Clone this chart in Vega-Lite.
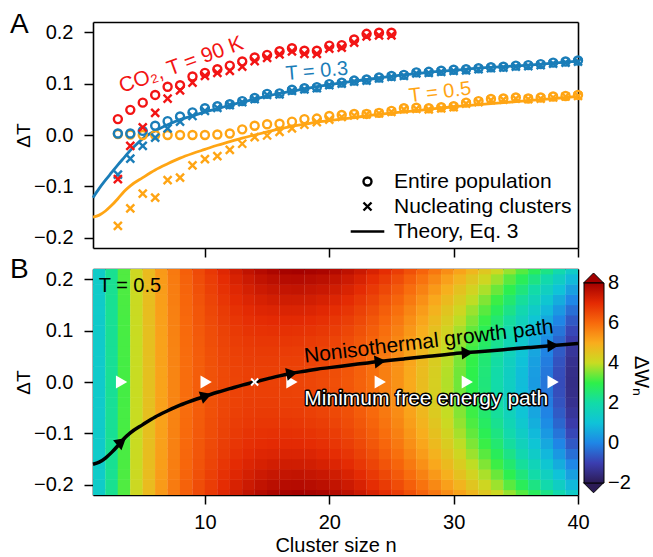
{
"$schema":"https://vega.github.io/schema/vega-lite/v6.json",
"padding":{"left":10,"top":11,"right":0,"bottom":0},
"background":"white",
"config":{"font":"Liberation Sans","view":{"stroke":null},
"axis":{"grid":false,"domain":true,"domainColor":"black","domainWidth":1.6,"zindex":1,"tickColor":"black","tickWidth":1.5,"tickSize":9,"labelFontSize":20,"labelColor":"black","labelPadding":8,"labelFlush":false,"titleFontSize":19,"titleFontWeight":"normal","titleColor":"black"},
"axisY":{"labelPadding":11},
"legend":{"labelFontSize":20,"labelColor":"black","titleFontWeight":"normal","titleColor":"black","symbolBaseStrokeColor":"black"}},
"spacing":21,
"bounds":"flush",
"resolve":{"scale":{"color":"independent","shape":"independent","x":"independent","y":"independent"},"legend":{"color":"independent","shape":"independent"}},
"datasets":{
"th":[
{"s":"b","n":1,"v":-0.122},{"s":"b","n":1.5,"v":-0.104},{"s":"b","n":2,"v":-0.088},{"s":"b","n":2.5,"v":-0.073},{"s":"b","n":3,"v":-0.058},{"s":"b","n":3.5,"v":-0.044},{"s":"b","n":4,"v":-0.03},{"s":"b","n":4.5,"v":-0.018},{"s":"b","n":5,"v":-0.007},{"s":"b","n":6,"v":0.008},{"s":"b","n":7,"v":0.02},{"s":"b","n":8,"v":0.03},{"s":"b","n":9,"v":0.037},{"s":"b","n":10,"v":0.045},{"s":"b","n":11,"v":0.051},{"s":"b","n":12,"v":0.058},{"s":"b","n":13,"v":0.064},{"s":"b","n":14,"v":0.07},{"s":"b","n":16,"v":0.081},{"s":"b","n":18,"v":0.09},{"s":"b","n":20,"v":0.098},{"s":"b","n":22,"v":0.105},{"s":"b","n":24,"v":0.111},{"s":"b","n":26,"v":0.117},{"s":"b","n":28,"v":0.122},{"s":"b","n":30,"v":0.126},{"s":"b","n":32,"v":0.13},{"s":"b","n":34,"v":0.133},{"s":"b","n":36,"v":0.136},{"s":"b","n":38,"v":0.14},{"s":"b","n":40,"v":0.144},
{"s":"o","n":1,"v":-0.16},{"s":"o","n":1.5,"v":-0.156},{"s":"o","n":2,"v":-0.148},{"s":"o","n":2.5,"v":-0.137},{"s":"o","n":3,"v":-0.124},{"s":"o","n":3.5,"v":-0.11},{"s":"o","n":4,"v":-0.099},{"s":"o","n":5,"v":-0.083},{"s":"o","n":6,"v":-0.068},{"s":"o","n":7,"v":-0.056},{"s":"o","n":8,"v":-0.045},{"s":"o","n":9,"v":-0.036},{"s":"o","n":10,"v":-0.028},{"s":"o","n":11,"v":-0.02},{"s":"o","n":12,"v":-0.013},{"s":"o","n":13,"v":-0.006},{"s":"o","n":14,"v":0},{"s":"o","n":15,"v":0.006},{"s":"o","n":16,"v":0.012},{"s":"o","n":17,"v":0.017},{"s":"o","n":18,"v":0.021},{"s":"o","n":19,"v":0.025},{"s":"o","n":20,"v":0.028},{"s":"o","n":22,"v":0.034},{"s":"o","n":24,"v":0.04},{"s":"o","n":26,"v":0.045},{"s":"o","n":28,"v":0.05},{"s":"o","n":30,"v":0.055},{"s":"o","n":32,"v":0.059},{"s":"o","n":34,"v":0.063},{"s":"o","n":36,"v":0.067},{"s":"o","n":38,"v":0.071},{"s":"o","n":40,"v":0.075}
],
"pts":[
{"s":"o","k":"E","n":3,"v":0.002},{"s":"o","k":"E","n":4,"v":0.001},{"s":"o","k":"E","n":5,"v":0},{"s":"o","k":"E","n":6,"v":0},{"s":"o","k":"E","n":7,"v":0},{"s":"o","k":"E","n":8,"v":0},{"s":"o","k":"E","n":9,"v":0},{"s":"o","k":"E","n":10,"v":0},{"s":"o","k":"E","n":11,"v":0.001},{"s":"o","k":"E","n":12,"v":0.003},{"s":"o","k":"E","n":13,"v":0.011},{"s":"o","k":"E","n":14,"v":0.018},{"s":"o","k":"E","n":15,"v":0.021},{"s":"o","k":"E","n":16,"v":0.022},{"s":"o","k":"E","n":17,"v":0.026},{"s":"o","k":"E","n":18,"v":0.031},{"s":"o","k":"E","n":19,"v":0.032},{"s":"o","k":"E","n":20,"v":0.037},{"s":"o","k":"E","n":21,"v":0.039},{"s":"o","k":"E","n":22,"v":0.041},{"s":"o","k":"E","n":23,"v":0.041},{"s":"o","k":"E","n":24,"v":0.043},{"s":"o","k":"E","n":25,"v":0.047},{"s":"o","k":"E","n":26,"v":0.052},{"s":"o","k":"E","n":27,"v":0.053},{"s":"o","k":"E","n":28,"v":0.052},{"s":"o","k":"E","n":29,"v":0.054},{"s":"o","k":"E","n":30,"v":0.056},{"s":"o","k":"E","n":31,"v":0.063},{"s":"o","k":"E","n":32,"v":0.066},{"s":"o","k":"E","n":33,"v":0.07},{"s":"o","k":"E","n":34,"v":0.071},{"s":"o","k":"E","n":35,"v":0.073},{"s":"o","k":"E","n":36,"v":0.071},{"s":"o","k":"E","n":37,"v":0.073},{"s":"o","k":"E","n":38,"v":0.075},{"s":"o","k":"E","n":39,"v":0.076},{"s":"o","k":"E","n":40,"v":0.078},
{"s":"o","k":"N","n":3,"v":-0.177},{"s":"o","k":"N","n":4,"v":-0.143},{"s":"o","k":"N","n":5,"v":-0.114},{"s":"o","k":"N","n":6,"v":-0.122},{"s":"o","k":"N","n":7,"v":-0.088},{"s":"o","k":"N","n":8,"v":-0.083},{"s":"o","k":"N","n":9,"v":-0.059},{"s":"o","k":"N","n":10,"v":-0.047},{"s":"o","k":"N","n":11,"v":-0.041},{"s":"o","k":"N","n":12,"v":-0.029},{"s":"o","k":"N","n":13,"v":-0.017},{"s":"o","k":"N","n":14,"v":-0.004},{"s":"o","k":"N","n":15,"v":-0.001},{"s":"o","k":"N","n":16,"v":0.006},{"s":"o","k":"N","n":17,"v":0.013},{"s":"o","k":"N","n":18,"v":0.02},{"s":"o","k":"N","n":19,"v":0.025},{"s":"o","k":"N","n":20,"v":0.03},{"s":"o","k":"N","n":21,"v":0.035},{"s":"o","k":"N","n":22,"v":0.038},{"s":"o","k":"N","n":23,"v":0.04},{"s":"o","k":"N","n":24,"v":0.042},{"s":"o","k":"N","n":25,"v":0.045},{"s":"o","k":"N","n":26,"v":0.05},{"s":"o","k":"N","n":27,"v":0.051},{"s":"o","k":"N","n":28,"v":0.05},{"s":"o","k":"N","n":29,"v":0.052},{"s":"o","k":"N","n":30,"v":0.054},{"s":"o","k":"N","n":31,"v":0.061},{"s":"o","k":"N","n":32,"v":0.064},{"s":"o","k":"N","n":33,"v":0.068},{"s":"o","k":"N","n":34,"v":0.069},{"s":"o","k":"N","n":35,"v":0.071},{"s":"o","k":"N","n":36,"v":0.07},{"s":"o","k":"N","n":37,"v":0.071},{"s":"o","k":"N","n":38,"v":0.073},{"s":"o","k":"N","n":39,"v":0.075},{"s":"o","k":"N","n":40,"v":0.076},
{"s":"b","k":"E","n":3,"v":0.003},{"s":"b","k":"E","n":4,"v":0.003},{"s":"b","k":"E","n":5,"v":0.008},{"s":"b","k":"E","n":6,"v":0.018},{"s":"b","k":"E","n":7,"v":0.027},{"s":"b","k":"E","n":8,"v":0.036},{"s":"b","k":"E","n":9,"v":0.044},{"s":"b","k":"E","n":10,"v":0.052},{"s":"b","k":"E","n":11,"v":0.056},{"s":"b","k":"E","n":12,"v":0.06},{"s":"b","k":"E","n":13,"v":0.066},{"s":"b","k":"E","n":14,"v":0.072},{"s":"b","k":"E","n":15,"v":0.08},{"s":"b","k":"E","n":16,"v":0.081},{"s":"b","k":"E","n":17,"v":0.088},{"s":"b","k":"E","n":18,"v":0.091},{"s":"b","k":"E","n":19,"v":0.093},{"s":"b","k":"E","n":20,"v":0.099},{"s":"b","k":"E","n":21,"v":0.102},{"s":"b","k":"E","n":22,"v":0.106},{"s":"b","k":"E","n":23,"v":0.108},{"s":"b","k":"E","n":24,"v":0.112},{"s":"b","k":"E","n":25,"v":0.115},{"s":"b","k":"E","n":26,"v":0.117},{"s":"b","k":"E","n":27,"v":0.122},{"s":"b","k":"E","n":28,"v":0.123},{"s":"b","k":"E","n":29,"v":0.125},{"s":"b","k":"E","n":30,"v":0.127},{"s":"b","k":"E","n":31,"v":0.128},{"s":"b","k":"E","n":32,"v":0.13},{"s":"b","k":"E","n":33,"v":0.132},{"s":"b","k":"E","n":34,"v":0.133},{"s":"b","k":"E","n":35,"v":0.135},{"s":"b","k":"E","n":36,"v":0.136},{"s":"b","k":"E","n":37,"v":0.138},{"s":"b","k":"E","n":38,"v":0.141},{"s":"b","k":"E","n":39,"v":0.143},{"s":"b","k":"E","n":40,"v":0.145},
{"s":"b","k":"N","n":3,"v":-0.077},{"s":"b","k":"N","n":4,"v":-0.046},{"s":"b","k":"N","n":5,"v":-0.021},{"s":"b","k":"N","n":6,"v":-0.005},{"s":"b","k":"N","n":7,"v":0.013},{"s":"b","k":"N","n":8,"v":0.026},{"s":"b","k":"N","n":9,"v":0.037},{"s":"b","k":"N","n":10,"v":0.047},{"s":"b","k":"N","n":11,"v":0.053},{"s":"b","k":"N","n":12,"v":0.058},{"s":"b","k":"N","n":13,"v":0.064},{"s":"b","k":"N","n":14,"v":0.07},{"s":"b","k":"N","n":15,"v":0.078},{"s":"b","k":"N","n":16,"v":0.079},{"s":"b","k":"N","n":17,"v":0.086},{"s":"b","k":"N","n":18,"v":0.089},{"s":"b","k":"N","n":19,"v":0.091},{"s":"b","k":"N","n":20,"v":0.097},{"s":"b","k":"N","n":21,"v":0.1},{"s":"b","k":"N","n":22,"v":0.104},{"s":"b","k":"N","n":23,"v":0.106},{"s":"b","k":"N","n":24,"v":0.11},{"s":"b","k":"N","n":25,"v":0.113},{"s":"b","k":"N","n":26,"v":0.115},{"s":"b","k":"N","n":27,"v":0.12},{"s":"b","k":"N","n":28,"v":0.121},{"s":"b","k":"N","n":29,"v":0.123},{"s":"b","k":"N","n":30,"v":0.125},{"s":"b","k":"N","n":31,"v":0.126},{"s":"b","k":"N","n":32,"v":0.128},{"s":"b","k":"N","n":33,"v":0.13},{"s":"b","k":"N","n":34,"v":0.131},{"s":"b","k":"N","n":35,"v":0.133},{"s":"b","k":"N","n":36,"v":0.134},{"s":"b","k":"N","n":37,"v":0.136},{"s":"b","k":"N","n":38,"v":0.139},{"s":"b","k":"N","n":39,"v":0.141},{"s":"b","k":"N","n":40,"v":0.143},
{"s":"r","k":"E","n":3,"v":0.031},{"s":"r","k":"E","n":4,"v":0.049},{"s":"r","k":"E","n":5,"v":0.063},{"s":"r","k":"E","n":6,"v":0.078},{"s":"r","k":"E","n":7,"v":0.094},{"s":"r","k":"E","n":8,"v":0.097},{"s":"r","k":"E","n":9,"v":0.114},{"s":"r","k":"E","n":10,"v":0.121},{"s":"r","k":"E","n":11,"v":0.128},{"s":"r","k":"E","n":12,"v":0.135},{"s":"r","k":"E","n":13,"v":0.143},{"s":"r","k":"E","n":14,"v":0.151},{"s":"r","k":"E","n":15,"v":0.156},{"s":"r","k":"E","n":16,"v":0.163},{"s":"r","k":"E","n":17,"v":0.169},{"s":"r","k":"E","n":18,"v":0.164},{"s":"r","k":"E","n":19,"v":0.164},{"s":"r","k":"E","n":20,"v":0.174},{"s":"r","k":"E","n":21,"v":0.175},{"s":"r","k":"E","n":22,"v":0.186},{"s":"r","k":"E","n":23,"v":0.197},{"s":"r","k":"E","n":24,"v":0.199},{"s":"r","k":"E","n":25,"v":0.199},
{"s":"r","k":"N","n":3,"v":-0.086},{"s":"r","k":"N","n":4,"v":-0.021},{"s":"r","k":"N","n":5,"v":0.015},{"s":"r","k":"N","n":6,"v":0.043},{"s":"r","k":"N","n":7,"v":0.071},{"s":"r","k":"N","n":8,"v":0.087},{"s":"r","k":"N","n":9,"v":0.102},{"s":"r","k":"N","n":10,"v":0.115},{"s":"r","k":"N","n":11,"v":0.121},{"s":"r","k":"N","n":12,"v":0.125},{"s":"r","k":"N","n":13,"v":0.133},{"s":"r","k":"N","n":14,"v":0.144},{"s":"r","k":"N","n":15,"v":0.15},{"s":"r","k":"N","n":16,"v":0.157},{"s":"r","k":"N","n":17,"v":0.163},{"s":"r","k":"N","n":18,"v":0.158},{"s":"r","k":"N","n":19,"v":0.158},{"s":"r","k":"N","n":20,"v":0.168},{"s":"r","k":"N","n":21,"v":0.17},{"s":"r","k":"N","n":22,"v":0.18},{"s":"r","k":"N","n":23,"v":0.192},{"s":"r","k":"N","n":24,"v":0.194},{"s":"r","k":"N","n":25,"v":0.194}
],
"hm":[
{"n":1.5,"t":-0.22,"w":1.35},{"n":1.5,"t":-0.2,"w":1.34},{"n":1.5,"t":-0.18,"w":1.33},{"n":1.5,"t":-0.16,"w":1.33},{"n":1.5,"t":-0.14,"w":1.32},{"n":1.5,"t":-0.12,"w":1.31},{"n":1.5,"t":-0.1,"w":1.31},{"n":1.5,"t":-0.08,"w":1.31},{"n":1.5,"t":-0.06,"w":1.3},{"n":1.5,"t":-0.04,"w":1.3},{"n":1.5,"t":-0.02,"w":1.3},{"n":1.5,"t":0,"w":1.3},{"n":1.5,"t":0.02,"w":1.3},{"n":1.5,"t":0.04,"w":1.3},{"n":1.5,"t":0.06,"w":1.3},{"n":1.5,"t":0.08,"w":1.31},{"n":1.5,"t":0.1,"w":1.31},{"n":1.5,"t":0.12,"w":1.31},{"n":1.5,"t":0.14,"w":1.32},{"n":1.5,"t":0.16,"w":1.33},{"n":1.5,"t":0.18,"w":1.33},{"n":1.5,"t":0.2,"w":1.34},{"n":1.5,"t":0.22,"w":1.35},
{"n":2.5,"t":-0.22,"w":2.26},{"n":2.5,"t":-0.2,"w":2.25},{"n":2.5,"t":-0.18,"w":2.24},{"n":2.5,"t":-0.16,"w":2.23},{"n":2.5,"t":-0.14,"w":2.22},{"n":2.5,"t":-0.12,"w":2.22},{"n":2.5,"t":-0.1,"w":2.21},{"n":2.5,"t":-0.08,"w":2.21},{"n":2.5,"t":-0.06,"w":2.2},{"n":2.5,"t":-0.04,"w":2.2},{"n":2.5,"t":-0.02,"w":2.2},{"n":2.5,"t":0,"w":2.2},{"n":2.5,"t":0.02,"w":2.2},{"n":2.5,"t":0.04,"w":2.2},{"n":2.5,"t":0.06,"w":2.2},{"n":2.5,"t":0.08,"w":2.21},{"n":2.5,"t":0.1,"w":2.21},{"n":2.5,"t":0.12,"w":2.22},{"n":2.5,"t":0.14,"w":2.22},{"n":2.5,"t":0.16,"w":2.23},{"n":2.5,"t":0.18,"w":2.24},{"n":2.5,"t":0.2,"w":2.25},{"n":2.5,"t":0.22,"w":2.26},
{"n":3.5,"t":-0.22,"w":3.23},{"n":3.5,"t":-0.2,"w":3.22},{"n":3.5,"t":-0.18,"w":3.2},{"n":3.5,"t":-0.16,"w":3.19},{"n":3.5,"t":-0.14,"w":3.18},{"n":3.5,"t":-0.12,"w":3.17},{"n":3.5,"t":-0.1,"w":3.17},{"n":3.5,"t":-0.08,"w":3.16},{"n":3.5,"t":-0.06,"w":3.16},{"n":3.5,"t":-0.04,"w":3.15},{"n":3.5,"t":-0.02,"w":3.15},{"n":3.5,"t":0,"w":3.15},{"n":3.5,"t":0.02,"w":3.15},{"n":3.5,"t":0.04,"w":3.15},{"n":3.5,"t":0.06,"w":3.16},{"n":3.5,"t":0.08,"w":3.16},{"n":3.5,"t":0.1,"w":3.17},{"n":3.5,"t":0.12,"w":3.17},{"n":3.5,"t":0.14,"w":3.18},{"n":3.5,"t":0.16,"w":3.19},{"n":3.5,"t":0.18,"w":3.2},{"n":3.5,"t":0.2,"w":3.22},{"n":3.5,"t":0.22,"w":3.23},
{"n":4.5,"t":-0.22,"w":4.1},{"n":4.5,"t":-0.2,"w":4.08},{"n":4.5,"t":-0.18,"w":4.07},{"n":4.5,"t":-0.16,"w":4.05},{"n":4.5,"t":-0.14,"w":4.04},{"n":4.5,"t":-0.12,"w":4.03},{"n":4.5,"t":-0.1,"w":4.02},{"n":4.5,"t":-0.08,"w":4.01},{"n":4.5,"t":-0.06,"w":4.01},{"n":4.5,"t":-0.04,"w":4},{"n":4.5,"t":-0.02,"w":4},{"n":4.5,"t":0,"w":4},{"n":4.5,"t":0.02,"w":4},{"n":4.5,"t":0.04,"w":4},{"n":4.5,"t":0.06,"w":4.01},{"n":4.5,"t":0.08,"w":4.01},{"n":4.5,"t":0.1,"w":4.02},{"n":4.5,"t":0.12,"w":4.03},{"n":4.5,"t":0.14,"w":4.04},{"n":4.5,"t":0.16,"w":4.05},{"n":4.5,"t":0.18,"w":4.07},{"n":4.5,"t":0.2,"w":4.08},{"n":4.5,"t":0.22,"w":4.1},
{"n":5.5,"t":-0.22,"w":4.72},{"n":5.5,"t":-0.2,"w":4.7},{"n":5.5,"t":-0.18,"w":4.68},{"n":5.5,"t":-0.16,"w":4.66},{"n":5.5,"t":-0.14,"w":4.65},{"n":5.5,"t":-0.12,"w":4.64},{"n":5.5,"t":-0.1,"w":4.62},{"n":5.5,"t":-0.08,"w":4.62},{"n":5.5,"t":-0.06,"w":4.61},{"n":5.5,"t":-0.04,"w":4.6},{"n":5.5,"t":-0.02,"w":4.6},{"n":5.5,"t":0,"w":4.6},{"n":5.5,"t":0.02,"w":4.6},{"n":5.5,"t":0.04,"w":4.6},{"n":5.5,"t":0.06,"w":4.61},{"n":5.5,"t":0.08,"w":4.62},{"n":5.5,"t":0.1,"w":4.62},{"n":5.5,"t":0.12,"w":4.64},{"n":5.5,"t":0.14,"w":4.65},{"n":5.5,"t":0.16,"w":4.66},{"n":5.5,"t":0.18,"w":4.68},{"n":5.5,"t":0.2,"w":4.7},{"n":5.5,"t":0.22,"w":4.72},
{"n":6.5,"t":-0.22,"w":5.3},{"n":6.5,"t":-0.2,"w":5.27},{"n":6.5,"t":-0.18,"w":5.25},{"n":6.5,"t":-0.16,"w":5.23},{"n":6.5,"t":-0.14,"w":5.21},{"n":6.5,"t":-0.12,"w":5.19},{"n":6.5,"t":-0.1,"w":5.18},{"n":6.5,"t":-0.08,"w":5.17},{"n":6.5,"t":-0.06,"w":5.16},{"n":6.5,"t":-0.04,"w":5.16},{"n":6.5,"t":-0.02,"w":5.15},{"n":6.5,"t":0,"w":5.15},{"n":6.5,"t":0.02,"w":5.15},{"n":6.5,"t":0.04,"w":5.16},{"n":6.5,"t":0.06,"w":5.16},{"n":6.5,"t":0.08,"w":5.17},{"n":6.5,"t":0.1,"w":5.18},{"n":6.5,"t":0.12,"w":5.19},{"n":6.5,"t":0.14,"w":5.21},{"n":6.5,"t":0.16,"w":5.23},{"n":6.5,"t":0.18,"w":5.25},{"n":6.5,"t":0.2,"w":5.27},{"n":6.5,"t":0.22,"w":5.3},
{"n":7.5,"t":-0.22,"w":5.78},{"n":7.5,"t":-0.2,"w":5.75},{"n":7.5,"t":-0.18,"w":5.72},{"n":7.5,"t":-0.16,"w":5.7},{"n":7.5,"t":-0.14,"w":5.67},{"n":7.5,"t":-0.12,"w":5.65},{"n":7.5,"t":-0.1,"w":5.64},{"n":7.5,"t":-0.08,"w":5.62},{"n":7.5,"t":-0.06,"w":5.61},{"n":7.5,"t":-0.04,"w":5.61},{"n":7.5,"t":-0.02,"w":5.6},{"n":7.5,"t":0,"w":5.6},{"n":7.5,"t":0.02,"w":5.6},{"n":7.5,"t":0.04,"w":5.61},{"n":7.5,"t":0.06,"w":5.61},{"n":7.5,"t":0.08,"w":5.62},{"n":7.5,"t":0.1,"w":5.64},{"n":7.5,"t":0.12,"w":5.65},{"n":7.5,"t":0.14,"w":5.67},{"n":7.5,"t":0.16,"w":5.7},{"n":7.5,"t":0.18,"w":5.72},{"n":7.5,"t":0.2,"w":5.75},{"n":7.5,"t":0.22,"w":5.78},
{"n":8.5,"t":-0.22,"w":6.17},{"n":8.5,"t":-0.2,"w":6.13},{"n":8.5,"t":-0.18,"w":6.1},{"n":8.5,"t":-0.16,"w":6.07},{"n":8.5,"t":-0.14,"w":6.04},{"n":8.5,"t":-0.12,"w":6.02},{"n":8.5,"t":-0.1,"w":6},{"n":8.5,"t":-0.08,"w":5.98},{"n":8.5,"t":-0.06,"w":5.97},{"n":8.5,"t":-0.04,"w":5.96},{"n":8.5,"t":-0.02,"w":5.95},{"n":8.5,"t":0,"w":5.95},{"n":8.5,"t":0.02,"w":5.95},{"n":8.5,"t":0.04,"w":5.96},{"n":8.5,"t":0.06,"w":5.97},{"n":8.5,"t":0.08,"w":5.98},{"n":8.5,"t":0.1,"w":6},{"n":8.5,"t":0.12,"w":6.02},{"n":8.5,"t":0.14,"w":6.04},{"n":8.5,"t":0.16,"w":6.07},{"n":8.5,"t":0.18,"w":6.1},{"n":8.5,"t":0.2,"w":6.13},{"n":8.5,"t":0.22,"w":6.17},
{"n":9.5,"t":-0.22,"w":6.5},{"n":9.5,"t":-0.2,"w":6.45},{"n":9.5,"t":-0.18,"w":6.4},{"n":9.5,"t":-0.16,"w":6.36},{"n":9.5,"t":-0.14,"w":6.32},{"n":9.5,"t":-0.12,"w":6.29},{"n":9.5,"t":-0.1,"w":6.26},{"n":9.5,"t":-0.08,"w":6.24},{"n":9.5,"t":-0.06,"w":6.22},{"n":9.5,"t":-0.04,"w":6.21},{"n":9.5,"t":-0.02,"w":6.2},{"n":9.5,"t":0,"w":6.2},{"n":9.5,"t":0.02,"w":6.2},{"n":9.5,"t":0.04,"w":6.21},{"n":9.5,"t":0.06,"w":6.22},{"n":9.5,"t":0.08,"w":6.24},{"n":9.5,"t":0.1,"w":6.26},{"n":9.5,"t":0.12,"w":6.29},{"n":9.5,"t":0.14,"w":6.32},{"n":9.5,"t":0.16,"w":6.36},{"n":9.5,"t":0.18,"w":6.4},{"n":9.5,"t":0.2,"w":6.45},{"n":9.5,"t":0.22,"w":6.5},
{"n":10.5,"t":-0.22,"w":6.78},{"n":10.5,"t":-0.2,"w":6.71},{"n":10.5,"t":-0.18,"w":6.65},{"n":10.5,"t":-0.16,"w":6.59},{"n":10.5,"t":-0.14,"w":6.54},{"n":10.5,"t":-0.12,"w":6.5},{"n":10.5,"t":-0.1,"w":6.46},{"n":10.5,"t":-0.08,"w":6.43},{"n":10.5,"t":-0.06,"w":6.41},{"n":10.5,"t":-0.04,"w":6.39},{"n":10.5,"t":-0.02,"w":6.38},{"n":10.5,"t":0,"w":6.38},{"n":10.5,"t":0.02,"w":6.38},{"n":10.5,"t":0.04,"w":6.39},{"n":10.5,"t":0.06,"w":6.41},{"n":10.5,"t":0.08,"w":6.43},{"n":10.5,"t":0.1,"w":6.46},{"n":10.5,"t":0.12,"w":6.5},{"n":10.5,"t":0.14,"w":6.54},{"n":10.5,"t":0.16,"w":6.59},{"n":10.5,"t":0.18,"w":6.65},{"n":10.5,"t":0.2,"w":6.71},{"n":10.5,"t":0.22,"w":6.78},
{"n":11.5,"t":-0.22,"w":7.07},{"n":11.5,"t":-0.2,"w":6.97},{"n":11.5,"t":-0.18,"w":6.89},{"n":11.5,"t":-0.16,"w":6.81},{"n":11.5,"t":-0.14,"w":6.74},{"n":11.5,"t":-0.12,"w":6.68},{"n":11.5,"t":-0.1,"w":6.63},{"n":11.5,"t":-0.08,"w":6.59},{"n":11.5,"t":-0.06,"w":6.56},{"n":11.5,"t":-0.04,"w":6.54},{"n":11.5,"t":-0.02,"w":6.52},{"n":11.5,"t":0,"w":6.52},{"n":11.5,"t":0.02,"w":6.52},{"n":11.5,"t":0.04,"w":6.54},{"n":11.5,"t":0.06,"w":6.56},{"n":11.5,"t":0.08,"w":6.59},{"n":11.5,"t":0.1,"w":6.63},{"n":11.5,"t":0.12,"w":6.68},{"n":11.5,"t":0.14,"w":6.74},{"n":11.5,"t":0.16,"w":6.81},{"n":11.5,"t":0.18,"w":6.89},{"n":11.5,"t":0.2,"w":6.97},{"n":11.5,"t":0.22,"w":7.07},
{"n":12.5,"t":-0.22,"w":7.32},{"n":12.5,"t":-0.2,"w":7.2},{"n":12.5,"t":-0.18,"w":7.08},{"n":12.5,"t":-0.16,"w":6.98},{"n":12.5,"t":-0.14,"w":6.89},{"n":12.5,"t":-0.12,"w":6.81},{"n":12.5,"t":-0.1,"w":6.75},{"n":12.5,"t":-0.08,"w":6.7},{"n":12.5,"t":-0.06,"w":6.65},{"n":12.5,"t":-0.04,"w":6.62},{"n":12.5,"t":-0.02,"w":6.61},{"n":12.5,"t":0,"w":6.6},{"n":12.5,"t":0.02,"w":6.61},{"n":12.5,"t":0.04,"w":6.62},{"n":12.5,"t":0.06,"w":6.65},{"n":12.5,"t":0.08,"w":6.7},{"n":12.5,"t":0.1,"w":6.75},{"n":12.5,"t":0.12,"w":6.81},{"n":12.5,"t":0.14,"w":6.89},{"n":12.5,"t":0.16,"w":6.98},{"n":12.5,"t":0.18,"w":7.08},{"n":12.5,"t":0.2,"w":7.2},{"n":12.5,"t":0.22,"w":7.32},
{"n":13.5,"t":-0.22,"w":7.55},{"n":13.5,"t":-0.2,"w":7.39},{"n":13.5,"t":-0.18,"w":7.25},{"n":13.5,"t":-0.16,"w":7.13},{"n":13.5,"t":-0.14,"w":7.01},{"n":13.5,"t":-0.12,"w":6.92},{"n":13.5,"t":-0.1,"w":6.84},{"n":13.5,"t":-0.08,"w":6.77},{"n":13.5,"t":-0.06,"w":6.72},{"n":13.5,"t":-0.04,"w":6.68},{"n":13.5,"t":-0.02,"w":6.66},{"n":13.5,"t":0,"w":6.65},{"n":13.5,"t":0.02,"w":6.66},{"n":13.5,"t":0.04,"w":6.68},{"n":13.5,"t":0.06,"w":6.72},{"n":13.5,"t":0.08,"w":6.77},{"n":13.5,"t":0.1,"w":6.84},{"n":13.5,"t":0.12,"w":6.92},{"n":13.5,"t":0.14,"w":7.01},{"n":13.5,"t":0.16,"w":7.13},{"n":13.5,"t":0.18,"w":7.25},{"n":13.5,"t":0.2,"w":7.39},{"n":13.5,"t":0.22,"w":7.55},
{"n":14.5,"t":-0.22,"w":7.73},{"n":14.5,"t":-0.2,"w":7.54},{"n":14.5,"t":-0.18,"w":7.37},{"n":14.5,"t":-0.16,"w":7.22},{"n":14.5,"t":-0.14,"w":7.09},{"n":14.5,"t":-0.12,"w":6.97},{"n":14.5,"t":-0.1,"w":6.87},{"n":14.5,"t":-0.08,"w":6.79},{"n":14.5,"t":-0.06,"w":6.73},{"n":14.5,"t":-0.04,"w":6.69},{"n":14.5,"t":-0.02,"w":6.66},{"n":14.5,"t":0,"w":6.65},{"n":14.5,"t":0.02,"w":6.66},{"n":14.5,"t":0.04,"w":6.69},{"n":14.5,"t":0.06,"w":6.73},{"n":14.5,"t":0.08,"w":6.79},{"n":14.5,"t":0.1,"w":6.87},{"n":14.5,"t":0.12,"w":6.97},{"n":14.5,"t":0.14,"w":7.09},{"n":14.5,"t":0.16,"w":7.22},{"n":14.5,"t":0.18,"w":7.37},{"n":14.5,"t":0.2,"w":7.54},{"n":14.5,"t":0.22,"w":7.73},
{"n":15.5,"t":-0.22,"w":7.86},{"n":15.5,"t":-0.2,"w":7.65},{"n":15.5,"t":-0.18,"w":7.46},{"n":15.5,"t":-0.16,"w":7.29},{"n":15.5,"t":-0.14,"w":7.13},{"n":15.5,"t":-0.12,"w":7},{"n":15.5,"t":-0.1,"w":6.89},{"n":15.5,"t":-0.08,"w":6.8},{"n":15.5,"t":-0.06,"w":6.73},{"n":15.5,"t":-0.04,"w":6.68},{"n":15.5,"t":-0.02,"w":6.65},{"n":15.5,"t":0,"w":6.64},{"n":15.5,"t":0.02,"w":6.65},{"n":15.5,"t":0.04,"w":6.68},{"n":15.5,"t":0.06,"w":6.73},{"n":15.5,"t":0.08,"w":6.8},{"n":15.5,"t":0.1,"w":6.89},{"n":15.5,"t":0.12,"w":7},{"n":15.5,"t":0.14,"w":7.13},{"n":15.5,"t":0.16,"w":7.29},{"n":15.5,"t":0.18,"w":7.46},{"n":15.5,"t":0.2,"w":7.65},{"n":15.5,"t":0.22,"w":7.86},
{"n":16.5,"t":-0.22,"w":7.94},{"n":16.5,"t":-0.2,"w":7.71},{"n":16.5,"t":-0.18,"w":7.5},{"n":16.5,"t":-0.16,"w":7.32},{"n":16.5,"t":-0.14,"w":7.15},{"n":16.5,"t":-0.12,"w":7.01},{"n":16.5,"t":-0.1,"w":6.89},{"n":16.5,"t":-0.08,"w":6.79},{"n":16.5,"t":-0.06,"w":6.72},{"n":16.5,"t":-0.04,"w":6.66},{"n":16.5,"t":-0.02,"w":6.63},{"n":16.5,"t":0,"w":6.62},{"n":16.5,"t":0.02,"w":6.63},{"n":16.5,"t":0.04,"w":6.66},{"n":16.5,"t":0.06,"w":6.72},{"n":16.5,"t":0.08,"w":6.79},{"n":16.5,"t":0.1,"w":6.89},{"n":16.5,"t":0.12,"w":7.01},{"n":16.5,"t":0.14,"w":7.15},{"n":16.5,"t":0.16,"w":7.32},{"n":16.5,"t":0.18,"w":7.5},{"n":16.5,"t":0.2,"w":7.71},{"n":16.5,"t":0.22,"w":7.94},
{"n":17.5,"t":-0.22,"w":7.97},{"n":17.5,"t":-0.2,"w":7.73},{"n":17.5,"t":-0.18,"w":7.52},{"n":17.5,"t":-0.16,"w":7.32},{"n":17.5,"t":-0.14,"w":7.15},{"n":17.5,"t":-0.12,"w":7.01},{"n":17.5,"t":-0.1,"w":6.88},{"n":17.5,"t":-0.08,"w":6.78},{"n":17.5,"t":-0.06,"w":6.7},{"n":17.5,"t":-0.04,"w":6.65},{"n":17.5,"t":-0.02,"w":6.61},{"n":17.5,"t":0,"w":6.6},{"n":17.5,"t":0.02,"w":6.61},{"n":17.5,"t":0.04,"w":6.65},{"n":17.5,"t":0.06,"w":6.7},{"n":17.5,"t":0.08,"w":6.78},{"n":17.5,"t":0.1,"w":6.88},{"n":17.5,"t":0.12,"w":7.01},{"n":17.5,"t":0.14,"w":7.15},{"n":17.5,"t":0.16,"w":7.32},{"n":17.5,"t":0.18,"w":7.52},{"n":17.5,"t":0.2,"w":7.73},{"n":17.5,"t":0.22,"w":7.97},
{"n":18.5,"t":-0.22,"w":7.94},{"n":18.5,"t":-0.2,"w":7.7},{"n":18.5,"t":-0.18,"w":7.48},{"n":18.5,"t":-0.16,"w":7.29},{"n":18.5,"t":-0.14,"w":7.12},{"n":18.5,"t":-0.12,"w":6.97},{"n":18.5,"t":-0.1,"w":6.85},{"n":18.5,"t":-0.08,"w":6.74},{"n":18.5,"t":-0.06,"w":6.66},{"n":18.5,"t":-0.04,"w":6.61},{"n":18.5,"t":-0.02,"w":6.57},{"n":18.5,"t":0,"w":6.56},{"n":18.5,"t":0.02,"w":6.57},{"n":18.5,"t":0.04,"w":6.61},{"n":18.5,"t":0.06,"w":6.66},{"n":18.5,"t":0.08,"w":6.74},{"n":18.5,"t":0.1,"w":6.85},{"n":18.5,"t":0.12,"w":6.97},{"n":18.5,"t":0.14,"w":7.12},{"n":18.5,"t":0.16,"w":7.29},{"n":18.5,"t":0.18,"w":7.48},{"n":18.5,"t":0.2,"w":7.7},{"n":18.5,"t":0.22,"w":7.94},
{"n":19.5,"t":-0.22,"w":7.87},{"n":19.5,"t":-0.2,"w":7.63},{"n":19.5,"t":-0.18,"w":7.42},{"n":19.5,"t":-0.16,"w":7.22},{"n":19.5,"t":-0.14,"w":7.05},{"n":19.5,"t":-0.12,"w":6.91},{"n":19.5,"t":-0.1,"w":6.78},{"n":19.5,"t":-0.08,"w":6.68},{"n":19.5,"t":-0.06,"w":6.6},{"n":19.5,"t":-0.04,"w":6.55},{"n":19.5,"t":-0.02,"w":6.51},{"n":19.5,"t":0,"w":6.5},{"n":19.5,"t":0.02,"w":6.51},{"n":19.5,"t":0.04,"w":6.55},{"n":19.5,"t":0.06,"w":6.6},{"n":19.5,"t":0.08,"w":6.68},{"n":19.5,"t":0.1,"w":6.78},{"n":19.5,"t":0.12,"w":6.91},{"n":19.5,"t":0.14,"w":7.05},{"n":19.5,"t":0.16,"w":7.22},{"n":19.5,"t":0.18,"w":7.42},{"n":19.5,"t":0.2,"w":7.63},{"n":19.5,"t":0.22,"w":7.87},
{"n":20.5,"t":-0.22,"w":7.76},{"n":20.5,"t":-0.2,"w":7.53},{"n":20.5,"t":-0.18,"w":7.32},{"n":20.5,"t":-0.16,"w":7.13},{"n":20.5,"t":-0.14,"w":6.96},{"n":20.5,"t":-0.12,"w":6.82},{"n":20.5,"t":-0.1,"w":6.7},{"n":20.5,"t":-0.08,"w":6.6},{"n":20.5,"t":-0.06,"w":6.52},{"n":20.5,"t":-0.04,"w":6.46},{"n":20.5,"t":-0.02,"w":6.43},{"n":20.5,"t":0,"w":6.42},{"n":20.5,"t":0.02,"w":6.43},{"n":20.5,"t":0.04,"w":6.46},{"n":20.5,"t":0.06,"w":6.52},{"n":20.5,"t":0.08,"w":6.6},{"n":20.5,"t":0.1,"w":6.7},{"n":20.5,"t":0.12,"w":6.82},{"n":20.5,"t":0.14,"w":6.96},{"n":20.5,"t":0.16,"w":7.13},{"n":20.5,"t":0.18,"w":7.32},{"n":20.5,"t":0.2,"w":7.53},{"n":20.5,"t":0.22,"w":7.76},
{"n":21.5,"t":-0.22,"w":7.6},{"n":21.5,"t":-0.2,"w":7.37},{"n":21.5,"t":-0.18,"w":7.17},{"n":21.5,"t":-0.16,"w":6.99},{"n":21.5,"t":-0.14,"w":6.83},{"n":21.5,"t":-0.12,"w":6.69},{"n":21.5,"t":-0.1,"w":6.57},{"n":21.5,"t":-0.08,"w":6.47},{"n":21.5,"t":-0.06,"w":6.4},{"n":21.5,"t":-0.04,"w":6.34},{"n":21.5,"t":-0.02,"w":6.31},{"n":21.5,"t":0,"w":6.3},{"n":21.5,"t":0.02,"w":6.31},{"n":21.5,"t":0.04,"w":6.34},{"n":21.5,"t":0.06,"w":6.4},{"n":21.5,"t":0.08,"w":6.47},{"n":21.5,"t":0.1,"w":6.57},{"n":21.5,"t":0.12,"w":6.69},{"n":21.5,"t":0.14,"w":6.83},{"n":21.5,"t":0.16,"w":6.99},{"n":21.5,"t":0.18,"w":7.17},{"n":21.5,"t":0.2,"w":7.37},{"n":21.5,"t":0.22,"w":7.6},
{"n":22.5,"t":-0.22,"w":7.4},{"n":22.5,"t":-0.2,"w":7.18},{"n":22.5,"t":-0.18,"w":6.98},{"n":22.5,"t":-0.16,"w":6.8},{"n":22.5,"t":-0.14,"w":6.64},{"n":22.5,"t":-0.12,"w":6.51},{"n":22.5,"t":-0.1,"w":6.39},{"n":22.5,"t":-0.08,"w":6.3},{"n":22.5,"t":-0.06,"w":6.22},{"n":22.5,"t":-0.04,"w":6.17},{"n":22.5,"t":-0.02,"w":6.14},{"n":22.5,"t":0,"w":6.13},{"n":22.5,"t":0.02,"w":6.14},{"n":22.5,"t":0.04,"w":6.17},{"n":22.5,"t":0.06,"w":6.22},{"n":22.5,"t":0.08,"w":6.3},{"n":22.5,"t":0.1,"w":6.39},{"n":22.5,"t":0.12,"w":6.51},{"n":22.5,"t":0.14,"w":6.64},{"n":22.5,"t":0.16,"w":6.8},{"n":22.5,"t":0.18,"w":6.98},{"n":22.5,"t":0.2,"w":7.18},{"n":22.5,"t":0.22,"w":7.4},
{"n":23.5,"t":-0.22,"w":7.18},{"n":23.5,"t":-0.2,"w":6.96},{"n":23.5,"t":-0.18,"w":6.76},{"n":23.5,"t":-0.16,"w":6.59},{"n":23.5,"t":-0.14,"w":6.43},{"n":23.5,"t":-0.12,"w":6.29},{"n":23.5,"t":-0.1,"w":6.18},{"n":23.5,"t":-0.08,"w":6.09},{"n":23.5,"t":-0.06,"w":6.01},{"n":23.5,"t":-0.04,"w":5.96},{"n":23.5,"t":-0.02,"w":5.93},{"n":23.5,"t":0,"w":5.92},{"n":23.5,"t":0.02,"w":5.93},{"n":23.5,"t":0.04,"w":5.96},{"n":23.5,"t":0.06,"w":6.01},{"n":23.5,"t":0.08,"w":6.09},{"n":23.5,"t":0.1,"w":6.18},{"n":23.5,"t":0.12,"w":6.29},{"n":23.5,"t":0.14,"w":6.43},{"n":23.5,"t":0.16,"w":6.59},{"n":23.5,"t":0.18,"w":6.76},{"n":23.5,"t":0.2,"w":6.96},{"n":23.5,"t":0.22,"w":7.18},
{"n":24.5,"t":-0.22,"w":6.95},{"n":24.5,"t":-0.2,"w":6.73},{"n":24.5,"t":-0.18,"w":6.53},{"n":24.5,"t":-0.16,"w":6.35},{"n":24.5,"t":-0.14,"w":6.19},{"n":24.5,"t":-0.12,"w":6.06},{"n":24.5,"t":-0.1,"w":5.94},{"n":24.5,"t":-0.08,"w":5.85},{"n":24.5,"t":-0.06,"w":5.77},{"n":24.5,"t":-0.04,"w":5.72},{"n":24.5,"t":-0.02,"w":5.69},{"n":24.5,"t":0,"w":5.68},{"n":24.5,"t":0.02,"w":5.69},{"n":24.5,"t":0.04,"w":5.72},{"n":24.5,"t":0.06,"w":5.77},{"n":24.5,"t":0.08,"w":5.85},{"n":24.5,"t":0.1,"w":5.94},{"n":24.5,"t":0.12,"w":6.06},{"n":24.5,"t":0.14,"w":6.19},{"n":24.5,"t":0.16,"w":6.35},{"n":24.5,"t":0.18,"w":6.53},{"n":24.5,"t":0.2,"w":6.73},{"n":24.5,"t":0.22,"w":6.95},
{"n":25.5,"t":-0.22,"w":6.7},{"n":25.5,"t":-0.2,"w":6.47},{"n":25.5,"t":-0.18,"w":6.27},{"n":25.5,"t":-0.16,"w":6.09},{"n":25.5,"t":-0.14,"w":5.93},{"n":25.5,"t":-0.12,"w":5.79},{"n":25.5,"t":-0.1,"w":5.67},{"n":25.5,"t":-0.08,"w":5.57},{"n":25.5,"t":-0.06,"w":5.5},{"n":25.5,"t":-0.04,"w":5.44},{"n":25.5,"t":-0.02,"w":5.41},{"n":25.5,"t":0,"w":5.4},{"n":25.5,"t":0.02,"w":5.41},{"n":25.5,"t":0.04,"w":5.44},{"n":25.5,"t":0.06,"w":5.5},{"n":25.5,"t":0.08,"w":5.57},{"n":25.5,"t":0.1,"w":5.67},{"n":25.5,"t":0.12,"w":5.79},{"n":25.5,"t":0.14,"w":5.93},{"n":25.5,"t":0.16,"w":6.09},{"n":25.5,"t":0.18,"w":6.27},{"n":25.5,"t":0.2,"w":6.47},{"n":25.5,"t":0.22,"w":6.7},
{"n":26.5,"t":-0.22,"w":6.41},{"n":26.5,"t":-0.2,"w":6.17},{"n":26.5,"t":-0.18,"w":5.96},{"n":26.5,"t":-0.16,"w":5.77},{"n":26.5,"t":-0.14,"w":5.6},{"n":26.5,"t":-0.12,"w":5.45},{"n":26.5,"t":-0.1,"w":5.33},{"n":26.5,"t":-0.08,"w":5.23},{"n":26.5,"t":-0.06,"w":5.15},{"n":26.5,"t":-0.04,"w":5.1},{"n":26.5,"t":-0.02,"w":5.06},{"n":26.5,"t":0,"w":5.05},{"n":26.5,"t":0.02,"w":5.06},{"n":26.5,"t":0.04,"w":5.1},{"n":26.5,"t":0.06,"w":5.15},{"n":26.5,"t":0.08,"w":5.23},{"n":26.5,"t":0.1,"w":5.33},{"n":26.5,"t":0.12,"w":5.45},{"n":26.5,"t":0.14,"w":5.6},{"n":26.5,"t":0.16,"w":5.77},{"n":26.5,"t":0.18,"w":5.96},{"n":26.5,"t":0.2,"w":6.17},{"n":26.5,"t":0.22,"w":6.41},
{"n":27.5,"t":-0.22,"w":6.11},{"n":27.5,"t":-0.2,"w":5.86},{"n":27.5,"t":-0.18,"w":5.64},{"n":27.5,"t":-0.16,"w":5.44},{"n":27.5,"t":-0.14,"w":5.26},{"n":27.5,"t":-0.12,"w":5.11},{"n":27.5,"t":-0.1,"w":4.98},{"n":27.5,"t":-0.08,"w":4.87},{"n":27.5,"t":-0.06,"w":4.79},{"n":27.5,"t":-0.04,"w":4.73},{"n":27.5,"t":-0.02,"w":4.69},{"n":27.5,"t":0,"w":4.68},{"n":27.5,"t":0.02,"w":4.69},{"n":27.5,"t":0.04,"w":4.73},{"n":27.5,"t":0.06,"w":4.79},{"n":27.5,"t":0.08,"w":4.87},{"n":27.5,"t":0.1,"w":4.98},{"n":27.5,"t":0.12,"w":5.11},{"n":27.5,"t":0.14,"w":5.26},{"n":27.5,"t":0.16,"w":5.44},{"n":27.5,"t":0.18,"w":5.64},{"n":27.5,"t":0.2,"w":5.86},{"n":27.5,"t":0.22,"w":6.11},
{"n":28.5,"t":-0.22,"w":5.8},{"n":28.5,"t":-0.2,"w":5.54},{"n":28.5,"t":-0.18,"w":5.3},{"n":28.5,"t":-0.16,"w":5.08},{"n":28.5,"t":-0.14,"w":4.9},{"n":28.5,"t":-0.12,"w":4.73},{"n":28.5,"t":-0.1,"w":4.59},{"n":28.5,"t":-0.08,"w":4.48},{"n":28.5,"t":-0.06,"w":4.39},{"n":28.5,"t":-0.04,"w":4.33},{"n":28.5,"t":-0.02,"w":4.29},{"n":28.5,"t":0,"w":4.28},{"n":28.5,"t":0.02,"w":4.29},{"n":28.5,"t":0.04,"w":4.33},{"n":28.5,"t":0.06,"w":4.39},{"n":28.5,"t":0.08,"w":4.48},{"n":28.5,"t":0.1,"w":4.59},{"n":28.5,"t":0.12,"w":4.73},{"n":28.5,"t":0.14,"w":4.9},{"n":28.5,"t":0.16,"w":5.08},{"n":28.5,"t":0.18,"w":5.3},{"n":28.5,"t":0.2,"w":5.54},{"n":28.5,"t":0.22,"w":5.8},
{"n":29.5,"t":-0.22,"w":5.48},{"n":29.5,"t":-0.2,"w":5.2},{"n":29.5,"t":-0.18,"w":4.94},{"n":29.5,"t":-0.16,"w":4.72},{"n":29.5,"t":-0.14,"w":4.52},{"n":29.5,"t":-0.12,"w":4.34},{"n":29.5,"t":-0.1,"w":4.19},{"n":29.5,"t":-0.08,"w":4.07},{"n":29.5,"t":-0.06,"w":3.98},{"n":29.5,"t":-0.04,"w":3.91},{"n":29.5,"t":-0.02,"w":3.87},{"n":29.5,"t":0,"w":3.86},{"n":29.5,"t":0.02,"w":3.87},{"n":29.5,"t":0.04,"w":3.91},{"n":29.5,"t":0.06,"w":3.98},{"n":29.5,"t":0.08,"w":4.07},{"n":29.5,"t":0.1,"w":4.19},{"n":29.5,"t":0.12,"w":4.34},{"n":29.5,"t":0.14,"w":4.52},{"n":29.5,"t":0.16,"w":4.72},{"n":29.5,"t":0.18,"w":4.94},{"n":29.5,"t":0.2,"w":5.2},{"n":29.5,"t":0.22,"w":5.48},
{"n":30.5,"t":-0.22,"w":5.15},{"n":30.5,"t":-0.2,"w":4.85},{"n":30.5,"t":-0.18,"w":4.58},{"n":30.5,"t":-0.16,"w":4.34},{"n":30.5,"t":-0.14,"w":4.12},{"n":30.5,"t":-0.12,"w":3.93},{"n":30.5,"t":-0.1,"w":3.78},{"n":30.5,"t":-0.08,"w":3.65},{"n":30.5,"t":-0.06,"w":3.55},{"n":30.5,"t":-0.04,"w":3.48},{"n":30.5,"t":-0.02,"w":3.43},{"n":30.5,"t":0,"w":3.42},{"n":30.5,"t":0.02,"w":3.43},{"n":30.5,"t":0.04,"w":3.48},{"n":30.5,"t":0.06,"w":3.55},{"n":30.5,"t":0.08,"w":3.65},{"n":30.5,"t":0.1,"w":3.78},{"n":30.5,"t":0.12,"w":3.93},{"n":30.5,"t":0.14,"w":4.12},{"n":30.5,"t":0.16,"w":4.34},{"n":30.5,"t":0.18,"w":4.58},{"n":30.5,"t":0.2,"w":4.85},{"n":30.5,"t":0.22,"w":5.15},
{"n":31.5,"t":-0.22,"w":4.81},{"n":31.5,"t":-0.2,"w":4.49},{"n":31.5,"t":-0.18,"w":4.2},{"n":31.5,"t":-0.16,"w":3.94},{"n":31.5,"t":-0.14,"w":3.71},{"n":31.5,"t":-0.12,"w":3.51},{"n":31.5,"t":-0.1,"w":3.34},{"n":31.5,"t":-0.08,"w":3.2},{"n":31.5,"t":-0.06,"w":3.1},{"n":31.5,"t":-0.04,"w":3.02},{"n":31.5,"t":-0.02,"w":2.98},{"n":31.5,"t":0,"w":2.96},{"n":31.5,"t":0.02,"w":2.98},{"n":31.5,"t":0.04,"w":3.02},{"n":31.5,"t":0.06,"w":3.1},{"n":31.5,"t":0.08,"w":3.2},{"n":31.5,"t":0.1,"w":3.34},{"n":31.5,"t":0.12,"w":3.51},{"n":31.5,"t":0.14,"w":3.71},{"n":31.5,"t":0.16,"w":3.94},{"n":31.5,"t":0.18,"w":4.2},{"n":31.5,"t":0.2,"w":4.49},{"n":31.5,"t":0.22,"w":4.81},
{"n":32.5,"t":-0.22,"w":4.46},{"n":32.5,"t":-0.2,"w":4.12},{"n":32.5,"t":-0.18,"w":3.81},{"n":32.5,"t":-0.16,"w":3.53},{"n":32.5,"t":-0.14,"w":3.28},{"n":32.5,"t":-0.12,"w":3.07},{"n":32.5,"t":-0.1,"w":2.89},{"n":32.5,"t":-0.08,"w":2.74},{"n":32.5,"t":-0.06,"w":2.63},{"n":32.5,"t":-0.04,"w":2.55},{"n":32.5,"t":-0.02,"w":2.5},{"n":32.5,"t":0,"w":2.48},{"n":32.5,"t":0.02,"w":2.5},{"n":32.5,"t":0.04,"w":2.55},{"n":32.5,"t":0.06,"w":2.63},{"n":32.5,"t":0.08,"w":2.74},{"n":32.5,"t":0.1,"w":2.89},{"n":32.5,"t":0.12,"w":3.07},{"n":32.5,"t":0.14,"w":3.28},{"n":32.5,"t":0.16,"w":3.53},{"n":32.5,"t":0.18,"w":3.81},{"n":32.5,"t":0.2,"w":4.12},{"n":32.5,"t":0.22,"w":4.46},
{"n":33.5,"t":-0.22,"w":4.08},{"n":33.5,"t":-0.2,"w":3.72},{"n":33.5,"t":-0.18,"w":3.39},{"n":33.5,"t":-0.16,"w":3.09},{"n":33.5,"t":-0.14,"w":2.83},{"n":33.5,"t":-0.12,"w":2.6},{"n":33.5,"t":-0.1,"w":2.41},{"n":33.5,"t":-0.08,"w":2.26},{"n":33.5,"t":-0.06,"w":2.14},{"n":33.5,"t":-0.04,"w":2.05},{"n":33.5,"t":-0.02,"w":2},{"n":33.5,"t":0,"w":1.98},{"n":33.5,"t":0.02,"w":2},{"n":33.5,"t":0.04,"w":2.05},{"n":33.5,"t":0.06,"w":2.14},{"n":33.5,"t":0.08,"w":2.26},{"n":33.5,"t":0.1,"w":2.41},{"n":33.5,"t":0.12,"w":2.6},{"n":33.5,"t":0.14,"w":2.83},{"n":33.5,"t":0.16,"w":3.09},{"n":33.5,"t":0.18,"w":3.39},{"n":33.5,"t":0.2,"w":3.72},{"n":33.5,"t":0.22,"w":4.08},
{"n":34.5,"t":-0.22,"w":3.67},{"n":34.5,"t":-0.2,"w":3.28},{"n":34.5,"t":-0.18,"w":2.94},{"n":34.5,"t":-0.16,"w":2.62},{"n":34.5,"t":-0.14,"w":2.35},{"n":34.5,"t":-0.12,"w":2.11},{"n":34.5,"t":-0.1,"w":1.91},{"n":34.5,"t":-0.08,"w":1.74},{"n":34.5,"t":-0.06,"w":1.62},{"n":34.5,"t":-0.04,"w":1.52},{"n":34.5,"t":-0.02,"w":1.47},{"n":34.5,"t":0,"w":1.45},{"n":34.5,"t":0.02,"w":1.47},{"n":34.5,"t":0.04,"w":1.52},{"n":34.5,"t":0.06,"w":1.62},{"n":34.5,"t":0.08,"w":1.74},{"n":34.5,"t":0.1,"w":1.91},{"n":34.5,"t":0.12,"w":2.11},{"n":34.5,"t":0.14,"w":2.35},{"n":34.5,"t":0.16,"w":2.62},{"n":34.5,"t":0.18,"w":2.94},{"n":34.5,"t":0.2,"w":3.28},{"n":34.5,"t":0.22,"w":3.67},
{"n":35.5,"t":-0.22,"w":3.25},{"n":35.5,"t":-0.2,"w":2.84},{"n":35.5,"t":-0.18,"w":2.47},{"n":35.5,"t":-0.16,"w":2.14},{"n":35.5,"t":-0.14,"w":1.85},{"n":35.5,"t":-0.12,"w":1.6},{"n":35.5,"t":-0.1,"w":1.39},{"n":35.5,"t":-0.08,"w":1.21},{"n":35.5,"t":-0.06,"w":1.07},{"n":35.5,"t":-0.04,"w":0.98},{"n":35.5,"t":-0.02,"w":0.92},{"n":35.5,"t":0,"w":0.9},{"n":35.5,"t":0.02,"w":0.92},{"n":35.5,"t":0.04,"w":0.98},{"n":35.5,"t":0.06,"w":1.07},{"n":35.5,"t":0.08,"w":1.21},{"n":35.5,"t":0.1,"w":1.39},{"n":35.5,"t":0.12,"w":1.6},{"n":35.5,"t":0.14,"w":1.85},{"n":35.5,"t":0.16,"w":2.14},{"n":35.5,"t":0.18,"w":2.47},{"n":35.5,"t":0.2,"w":2.84},{"n":35.5,"t":0.22,"w":3.25},
{"n":36.5,"t":-0.22,"w":2.82},{"n":36.5,"t":-0.2,"w":2.39},{"n":36.5,"t":-0.18,"w":2},{"n":36.5,"t":-0.16,"w":1.66},{"n":36.5,"t":-0.14,"w":1.35},{"n":36.5,"t":-0.12,"w":1.08},{"n":36.5,"t":-0.1,"w":0.86},{"n":36.5,"t":-0.08,"w":0.68},{"n":36.5,"t":-0.06,"w":0.53},{"n":36.5,"t":-0.04,"w":0.43},{"n":36.5,"t":-0.02,"w":0.37},{"n":36.5,"t":0,"w":0.35},{"n":36.5,"t":0.02,"w":0.37},{"n":36.5,"t":0.04,"w":0.43},{"n":36.5,"t":0.06,"w":0.53},{"n":36.5,"t":0.08,"w":0.68},{"n":36.5,"t":0.1,"w":0.86},{"n":36.5,"t":0.12,"w":1.08},{"n":36.5,"t":0.14,"w":1.35},{"n":36.5,"t":0.16,"w":1.66},{"n":36.5,"t":0.18,"w":2},{"n":36.5,"t":0.2,"w":2.39},{"n":36.5,"t":0.22,"w":2.82},
{"n":37.5,"t":-0.22,"w":2.36},{"n":37.5,"t":-0.2,"w":1.91},{"n":37.5,"t":-0.18,"w":1.51},{"n":37.5,"t":-0.16,"w":1.14},{"n":37.5,"t":-0.14,"w":0.82},{"n":37.5,"t":-0.12,"w":0.55},{"n":37.5,"t":-0.1,"w":0.31},{"n":37.5,"t":-0.08,"w":0.12},{"n":37.5,"t":-0.06,"w":-0.03},{"n":37.5,"t":-0.04,"w":-0.13},{"n":37.5,"t":-0.02,"w":-0.2},{"n":37.5,"t":0,"w":-0.22},{"n":37.5,"t":0.02,"w":-0.2},{"n":37.5,"t":0.04,"w":-0.13},{"n":37.5,"t":0.06,"w":-0.03},{"n":37.5,"t":0.08,"w":0.12},{"n":37.5,"t":0.1,"w":0.31},{"n":37.5,"t":0.12,"w":0.55},{"n":37.5,"t":0.14,"w":0.82},{"n":37.5,"t":0.16,"w":1.14},{"n":37.5,"t":0.18,"w":1.51},{"n":37.5,"t":0.2,"w":1.91},{"n":37.5,"t":0.22,"w":2.36},
{"n":38.5,"t":-0.22,"w":1.9},{"n":38.5,"t":-0.2,"w":1.43},{"n":38.5,"t":-0.18,"w":1.01},{"n":38.5,"t":-0.16,"w":0.63},{"n":38.5,"t":-0.14,"w":0.29},{"n":38.5,"t":-0.12,"w":0},{"n":38.5,"t":-0.1,"w":-0.24},{"n":38.5,"t":-0.08,"w":-0.44},{"n":38.5,"t":-0.06,"w":-0.6},{"n":38.5,"t":-0.04,"w":-0.71},{"n":38.5,"t":-0.02,"w":-0.78},{"n":38.5,"t":0,"w":-0.8},{"n":38.5,"t":0.02,"w":-0.78},{"n":38.5,"t":0.04,"w":-0.71},{"n":38.5,"t":0.06,"w":-0.6},{"n":38.5,"t":0.08,"w":-0.44},{"n":38.5,"t":0.1,"w":-0.24},{"n":38.5,"t":0.12,"w":0},{"n":38.5,"t":0.14,"w":0.29},{"n":38.5,"t":0.16,"w":0.63},{"n":38.5,"t":0.18,"w":1.01},{"n":38.5,"t":0.2,"w":1.43},{"n":38.5,"t":0.22,"w":1.9},
{"n":39.5,"t":-0.22,"w":1.35},{"n":39.5,"t":-0.2,"w":0.86},{"n":39.5,"t":-0.18,"w":0.42},{"n":39.5,"t":-0.16,"w":0.03},{"n":39.5,"t":-0.14,"w":-0.32},{"n":39.5,"t":-0.12,"w":-0.62},{"n":39.5,"t":-0.1,"w":-0.87},{"n":39.5,"t":-0.08,"w":-1.08},{"n":39.5,"t":-0.06,"w":-1.24},{"n":39.5,"t":-0.04,"w":-1.36},{"n":39.5,"t":-0.02,"w":-1.43},{"n":39.5,"t":0,"w":-1.45},{"n":39.5,"t":0.02,"w":-1.43},{"n":39.5,"t":0.04,"w":-1.36},{"n":39.5,"t":0.06,"w":-1.24},{"n":39.5,"t":0.08,"w":-1.08},{"n":39.5,"t":0.1,"w":-0.87},{"n":39.5,"t":0.12,"w":-0.62},{"n":39.5,"t":0.14,"w":-0.32},{"n":39.5,"t":0.16,"w":0.03},{"n":39.5,"t":0.18,"w":0.42},{"n":39.5,"t":0.2,"w":0.86},{"n":39.5,"t":0.22,"w":1.35}
],
"arrows":[{"n":3.3,"v":-0.116,"w0":0},{"n":10.1,"v":-0.027,"w0":0},{"n":17,"v":0.017,"w0":0},{"n":24.1,"v":0.04,"w0":0},{"n":31.1,"v":0.057,"w0":0},{"n":38,"v":0.071,"w0":0}]
},
"vconcat":[
{"width":485,"height":226,
"resolve":{"axis":{"x":"independent","y":"independent"}},
"layer":[
{"layer":[
{"mark":{"type":"rule","color":"#cccccc","strokeWidth":2.5},"encoding":{"y":{"datum":0,"type":"quantitative"}}},
{"data":{"name":"th"},"mark":{"type":"line","strokeWidth":2.8,"interpolate":"monotone"},
"encoding":{"x":{"field":"n","type":"quantitative","scale":{"domain":[1,40],"nice":false,"zero":false},"axis":{"values":[10,20,30,40],"labels":false,"title":null}},
"y":{"field":"v","type":"quantitative","scale":{"domain":[-0.22,0.22],"nice":false},"axis":{"values":[-0.2,-0.1,0,0.1,0.2],"format":".1f","title":"ΔT","titlePadding":0}},
"color":{"field":"s","type":"nominal","scale":{"domain":["r","b","o"],"range":["#f21414","#1a7db8","#ffa514"]},"legend":null}}},
{"data":{"name":"pts"},"mark":{"type":"point","filled":false,"strokeWidth":2.4,"size":64,"opacity":1},
"encoding":{"x":{"field":"n","type":"quantitative"},"y":{"field":"v","type":"quantitative"},
"color":{"field":"s","type":"nominal","legend":null},
"shape":{"field":"k","type":"nominal","scale":{"domain":["E","N","T"],"range":["circle","M-1,-1L1,1M-1,1L1,-1","M-4.2,0L4.2,0"]},
"legend":{"orient":"bottom-right","offset":6,"title":null,"labelFontSize":21,"labelLimit":400,"symbolSize":64,"symbolStrokeWidth":2.4,"symbolStrokeColor":"black","symbolFillColor":"transparent","symbolOpacity":1,"labelOffset":16,"rowPadding":3,
"labelExpr":"datum.value=='E'?'Entire population':datum.value=='N'?'Nucleating clusters':'Theory, Eq. 3'"}}}},
{"data":{"values":[{"n":8.1,"v":0.136,"label":"CO₂, T = 90 K"}]},"mark":{"type":"text","angle":-20,"fontSize":21,"color":"#f21414"},
"encoding":{"x":{"field":"n","type":"quantitative"},"y":{"field":"v","type":"quantitative"},"text":{"field":"label"}}},
{"data":{"values":[{"n":19,"v":0.124,"label":"T = 0.3"}]},"mark":{"type":"text","angle":-5,"fontSize":20,"color":"#1a7db8"},
"encoding":{"x":{"field":"n","type":"quantitative"},"y":{"field":"v","type":"quantitative"},"text":{"field":"label"}}},
{"data":{"values":[{"n":28.9,"v":0.083,"label":"T = 0.5"}]},"mark":{"type":"text","angle":-7,"fontSize":20,"color":"#ffa514"},
"encoding":{"x":{"field":"n","type":"quantitative"},"y":{"field":"v","type":"quantitative"},"text":{"field":"label"}}},
{"data":{"values":[{"n":-5.67,"v":0.1985,"label":"A"}]},"mark":{"type":"text","fontSize":28,"color":"black","align":"left","baseline":"alphabetic","clip":false},
"encoding":{"x":{"field":"n","type":"quantitative"},"y":{"field":"v","type":"quantitative"},"text":{"field":"label"}}}
]},
{"mark":{"type":"point","opacity":0},"encoding":{"x":{"datum":20,"type":"quantitative","axis":{"orient":"top","labels":false,"ticks":false,"title":null}},"y":{"datum":0,"type":"quantitative","axis":{"orient":"right","labels":false,"ticks":false,"title":null}}}}
]},
{"width":485,"height":226,
"resolve":{"axis":{"x":"independent","y":"independent"}},
"layer":[
{"layer":[
{"data":{"name":"hm"},"transform":[{"calculate":"datum.n-0.51","as":"n0"},{"calculate":"datum.n+0.51","as":"n1"},{"calculate":"datum.t-0.0105","as":"t0"},{"calculate":"datum.t+0.0105","as":"t1"}],
"mark":{"type":"rect","clip":true},
"encoding":{"x":{"field":"n0","type":"quantitative","scale":{"domain":[1,40],"nice":false,"zero":false},"axis":{"values":[10,20,30,40],"title":"Cluster size n","titleFontSize":20,"titlePadding":3}},
"x2":{"field":"n1"},
"y":{"field":"t0","type":"quantitative","scale":{"domain":[-0.22,0.22],"nice":false},"axis":{"values":[-0.2,-0.1,0,0.1,0.2],"format":".1f","title":"ΔT","titlePadding":0}},
"y2":{"field":"t1"},
"color":{"field":"w","type":"quantitative","scale":{"domain":[-2,-1,0,1,2,3,4,5,6,7,8],"range":["#2c1b55","#3b3eb0","#1f86e6","#0fc3d8","#12dba8","#2ef04a","#c8dc22","#f9ad1d","#f86a0c","#e42a03","#a30000"],"clamp":true,"interpolate":"rgb"},
"legend":{"title":"ΔWₙ","orient":"right","offset":-8,"padding":14,"gradientLength":200,"gradientThickness":20,"values":[-2,0,2,4,6,8],"labelFontSize":20,"labelOffset":4,"titleOrient":"right","titleAngle":270,"titleFontSize":20,"titleAnchor":"middle","titlePadding":0,"gradientStrokeColor":"black","gradientStrokeWidth":1,
"encode":{"labels":{"update":{"baseline":{"value":"middle"}}}}}}}},
{"mark":{"type":"rule","color":"white","strokeWidth":1.5,"strokeDash":[5,3]},"encoding":{"x":{"datum":14,"type":"quantitative"}}},
{"mark":{"type":"rule","color":"white","strokeWidth":3},"encoding":{"y":{"datum":0,"type":"quantitative"}}},
{"data":{"values":[{"n":41.25,"v":0.2025}]},"mark":{"type":"point","shape":"M-1,0.5L1,0.5L0,-0.5Z","filled":true,"color":"#a30000","stroke":"black","strokeWidth":1,"size":400,"opacity":1,"clip":false},"encoding":{"x":{"field":"n","type":"quantitative"},"y":{"field":"v","type":"quantitative"}}},
{"data":{"values":[{"n":41.25,"v":-0.206}]},"mark":{"type":"point","shape":"M-1,-0.5L1,-0.5L0,0.5Z","filled":true,"color":"#2c1b55","stroke":"black","strokeWidth":1,"size":400,"opacity":1,"clip":false},"encoding":{"x":{"field":"n","type":"quantitative"},"y":{"field":"v","type":"quantitative"}}},
{"data":{"name":"arrows"},"mark":{"type":"point","shape":"triangle-right","filled":true,"color":"white","size":170,"opacity":1},
"encoding":{"x":{"field":"n","type":"quantitative"},"y":{"field":"w0","type":"quantitative"}}},
{"data":{"name":"th"},"transform":[{"filter":"datum.s==='o'"}],"mark":{"type":"line","color":"black","strokeWidth":3.5,"interpolate":"monotone"},
"encoding":{"x":{"field":"n","type":"quantitative"},"y":{"field":"v","type":"quantitative"}}},
{"data":{"name":"arrows"},"mark":{"type":"point","shape":"triangle-right","filled":true,"color":"black","size":170,"opacity":1},
"encoding":{"x":{"field":"n","type":"quantitative"},"y":{"field":"v","type":"quantitative"},
"angle":{"field":"n","type":"quantitative","scale":{"domain":[3.3,10.1,17,24.1,31.1,38],"range":[-40,-19,-11,-6,-3.5,-2.3]},"legend":null}}},
{"data":{"values":[{"n":14,"v":0}]},"mark":{"type":"point","shape":"M-1,-1L1,1M-1,1L1,-1","color":"white","strokeWidth":2,"size":50,"filled":false,"opacity":1},
"encoding":{"x":{"field":"n","type":"quantitative"},"y":{"field":"v","type":"quantitative"}}},
{"data":{"values":[{"n":3.97,"v":0.186,"label":"T = 0.5"}]},"mark":{"type":"text","fontSize":20,"color":"black"},
"encoding":{"x":{"field":"n","type":"quantitative"},"y":{"field":"v","type":"quantitative"},"text":{"field":"label"}}},
{"data":{"values":[{"n":28,"v":0.078,"label":"Nonisothermal growth path"}]},"mark":{"type":"text","fontSize":21,"color":"black","angle":-6.8},
"encoding":{"x":{"field":"n","type":"quantitative"},"y":{"field":"v","type":"quantitative"},"text":{"field":"label"}}},
{"data":{"values":[{"n":27.8,"v":-0.034,"label":"Minimum free energy path"}]},"mark":{"type":"text","fontSize":21,"color":"black","stroke":"black","strokeWidth":3,"strokeJoin":"round"},
"encoding":{"x":{"field":"n","type":"quantitative"},"y":{"field":"v","type":"quantitative"},"text":{"field":"label"}}},
{"data":{"values":[{"n":27.8,"v":-0.034,"label":"Minimum free energy path"}]},"mark":{"type":"text","fontSize":21,"color":"white"},
"encoding":{"x":{"field":"n","type":"quantitative"},"y":{"field":"v","type":"quantitative"},"text":{"field":"label"}}},
{"data":{"values":[{"n":-5.67,"v":0.2025,"label":"B"}]},"mark":{"type":"text","fontSize":28,"color":"black","align":"left","baseline":"alphabetic","clip":false},
"encoding":{"x":{"field":"n","type":"quantitative"},"y":{"field":"v","type":"quantitative"},"text":{"field":"label"}}}
]},
{"mark":{"type":"point","opacity":0},"encoding":{"x":{"datum":20,"type":"quantitative","axis":{"orient":"top","labels":false,"ticks":false,"title":null}},"y":{"datum":0,"type":"quantitative","axis":{"orient":"right","labels":false,"ticks":false,"title":null}}}}
]}
]
}
